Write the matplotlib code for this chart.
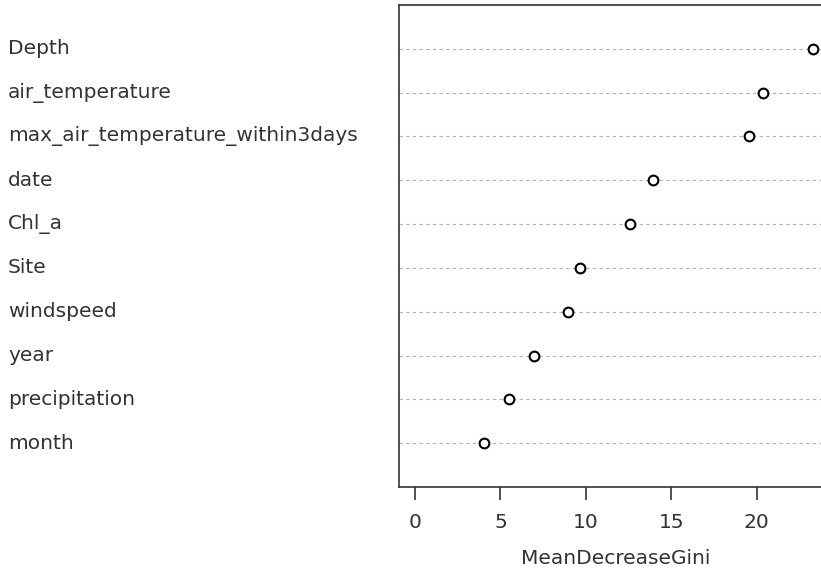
import matplotlib.pyplot as plt
import matplotlib.transforms as mtransforms

plt.rcParams['font.family'] = ['DejaVu Sans']

# variable importance (random forest), top to bottom as in the plot
variables = ["Depth", "air_temperature", "max_air_temperature_within3days", "date",
             "Chl_a", "Site", "windspeed", "year", "precipitation", "month"]
gini = [23.28, 20.39, 19.54, 13.95, 12.57, 9.66, 8.98, 6.99, 5.48, 4.06]

fig = plt.figure(figsize=(8.21, 5.69), dpi=100)
W, H = 821, 569
left, right, top, bottom = 399, 832, 5, 487
ax = fig.add_axes([left / W, 1 - bottom / H, (right - left) / W, (bottom - top) / H])

n = len(variables)
ypos = list(range(n, 0, -1))

for y in ypos:
    ax.axhline(y, color="#b0b0b0", lw=0.8, ls=(0, (3, 3)), zorder=1)
ax.plot(gini, ypos, ls="none", marker="o", ms=7, mfc="white", mec="black", mew=1.5, zorder=3)

ax.set_ylim(0, n + 1)
ax.set_xlim(-0.94, 24.42)
ax.set_yticks([])
ax.set_xticks([0, 5, 10, 15, 20])
ax.tick_params(axis="x", length=9, width=1.2, pad=10, labelsize=14.5, color="#333333", labelcolor="#333333")
for s in ax.spines.values():
    s.set_linewidth(1.2)
    s.set_color("#333333")

trans = mtransforms.blended_transform_factory(fig.transFigure, ax.transData)
for name, y in zip(variables, ypos):
    ax.text(8 / W, y, name, transform=trans, ha="left", va="center",
            fontsize=14.5, color="#333333", clip_on=False)

ax.set_xlabel("MeanDecreaseGini", fontsize=14.5, color="#333333", labelpad=12)

fig.savefig("out.png", dpi=100)
